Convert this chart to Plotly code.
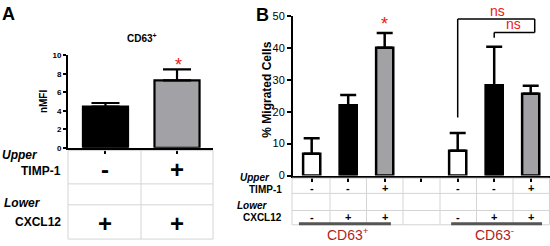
import plotly.graph_objects as go

# ---------------- data ----------------
# Panel A
cats_A = ["TIMP-1 -", "TIMP-1 +"]
nmfi = [4.45, 7.3]
nmfi_err = [0.4, 1.2]
colors_A = ["black", "#a2a2a6"]
timp_A = ["-", "+"]
cxcl_A = ["+", "+"]

# Panel B (empty string = spacer slot)
cats_B = ["CD63+ ctrl", "CD63+ CXCL12", "CD63+ CXCL12+TIMP-1", "",
          "CD63- ctrl", "CD63- CXCL12", "CD63- CXCL12+TIMP-1"]
migrated = [6.8, 22.0, 40.0, None, 7.8, 28.3, 25.6]
migrated_err = [4.9, 3.2, 4.6, None, 5.5, 12.0, 2.5]
colors_B = ["white", "black", "#a2a2a6", None, "white", "black", "#a2a2a6"]
timp_B = ["-", "-", "+", "", "-", "-", "+"]
cxcl_B = ["-", "+", "+", "", "-", "+", "+"]

W, H = 550, 246
def X(px):
    return px / W
def Y(py):
    return 1 - py / H

fig = go.Figure()

# Panel A bars
fig.add_trace(go.Bar(
    x=list(range(len(cats_A))), y=nmfi, width=0.63,
    marker=dict(color=colors_A, line=dict(color="black", width=2.2)),
    error_y=dict(type="data", symmetric=False, array=nmfi_err,
                 arrayminus=[0] * len(nmfi), color="black", thickness=2.2, width=14),
    xaxis="x", yaxis="y", hoverinfo="skip"))

# Panel B bars
idx_B = [i for i, c in enumerate(cats_B) if c]
fig.add_trace(go.Bar(
    x=idx_B, y=[migrated[i] for i in idx_B], width=0.47,
    marker=dict(color=[colors_B[i] for i in idx_B], line=dict(color="black", width=2.5)),
    error_y=dict(type="data", symmetric=False, array=[migrated_err[i] for i in idx_B],
                 arrayminus=[0] * len(idx_B), color="black", thickness=2.5, width=8),
    xaxis="x2", yaxis="y2", hoverinfo="skip"))

axis_common = dict(showline=True, linecolor="black", linewidth=2, ticks="outside",
                   tickcolor="black", tickwidth=2, showgrid=False, zeroline=False)

fig.update_layout(
    width=W, height=H, margin=dict(l=0, r=0, t=0, b=0),
    paper_bgcolor="white", plot_bgcolor="white", showlegend=False,
    font=dict(family="Liberation Sans, Arial", color="black"),
    xaxis=dict(domain=[X(68), X(213)], range=[-0.524, 1.503], anchor="y",
               tickvals=list(range(len(cats_A))), showticklabels=False, ticklen=4,
               **axis_common),
    yaxis=dict(domain=[Y(149), Y(52)], range=[0, 10], anchor="x", dtick=2, ticklen=3,
               tickfont=dict(size=8, weight="bold"), **axis_common),
    xaxis2=dict(domain=[X(293), X(549.5)], range=[-0.512, 6.515], anchor="y2",
                tickvals=list(range(len(cats_B))), showticklabels=False, ticklen=4,
                **axis_common),
    yaxis2=dict(domain=[Y(178.3), Y(10.3)], range=[0, 50], anchor="x2", dtick=10,
                ticklen=4, tickfont=dict(size=11), **axis_common),
)

ann = []
shapes = []
GRID = "#d4d4d4"
RED = "#f01414"

def text(x, y, s, size, xanchor="center", yanchor="middle", bold=False, italic=False,
         color="black", xref="paper", yref="paper", textangle=0):
    ann.append(dict(x=x, y=y, xref=xref, yref=yref, text=s, showarrow=False,
                    xanchor=xanchor, yanchor=yanchor, textangle=textangle,
                    font=dict(size=size, color=color,
                              weight="bold" if bold else "normal",
                              style="italic" if italic else "normal")))

def line(x0, y0, x1, y1, color=GRID, width=1, xref="paper", yref="paper"):
    shapes.append(dict(type="line", x0=x0, y0=y0, x1=x1, y1=y1, xref=xref, yref=yref,
                       line=dict(color=color, width=width)))

# Panel labels
text(X(0), Y(8), "A", 18, xanchor="left", bold=True)
text(X(254), Y(9), "B", 18, xanchor="left", bold=True)

# Panel A titles
text(X(142), Y(34), "CD63<sup>+</sup>", 10, bold=True)
text(X(43), Y(100), "nMFI", 10, bold=True, textangle=-90)
text(X(178), Y(62), "*", 18, color=RED)

# Panel A table
for py in [152, 187, 209, 245]:
    line(X(68), Y(py), X(213), Y(py))
for px in [68, 141, 213]:
    line(X(px), Y(152), X(px), Y(245))
text(X(0), Y(157), "Upper", 12, xanchor="left", bold=True, italic=True)
text(X(63), Y(173), "TIMP-1", 12, xanchor="right", bold=True)
text(X(2), Y(207), "Lower", 12, xanchor="left", bold=True, italic=True)
text(X(63), Y(227), "CXCL12", 12, xanchor="right", bold=True)
for i in range(len(cats_A)):
    text(i, Y(172), timp_A[i], 24, bold=True, xref="x")
    text(i, Y(229), cxcl_A[i], 24, bold=True, xref="x")

# Panel B axis title & annotations
text(X(267), Y(88), "% Migrated Cells", 12, bold=True, textangle=-90)
text(2, Y(19), "*", 18, color=RED, xref="x2")

# ns brackets (data coords)
line(4, 18.2, 4, 49.0, color="black", width=1.5, xref="x2", yref="y2")
line(4, 49.0, 6.11, 49.0, color="black", width=1.5, xref="x2", yref="y2")
line(6.11, 49.0, 6.11, 44.8, color="black", width=1.5, xref="x2", yref="y2")
line(5, 43.1, 5, 44.8, color="black", width=1.5, xref="x2", yref="y2")
line(5, 44.8, 6.11, 44.8, color="black", width=1.5, xref="x2", yref="y2")
text(X(498), Y(5), "ns", 14, color=RED)
text(X(513), Y(19), "ns", 14, color=RED)

# Panel B table
for py in [181, 197, 215, 230]:
    line(X(292), Y(py), X(549.5), Y(py))
for px in [292, 330, 366.5, 403, 440, 476.5, 513, 549.5]:
    line(X(px), Y(181), X(px), Y(230))
text(X(238), Y(180), "Upper", 10, xanchor="left", bold=True, italic=True)
text(X(284), Y(193), "TIMP-1", 10, xanchor="right", bold=True)
text(X(235), Y(210), "Lower", 10, xanchor="left", bold=True, italic=True)
text(X(284), Y(222), "CXCL12", 10, xanchor="right", bold=True)
for i in range(len(cats_B)):
    if timp_B[i]:
        text(i, Y(191), timp_B[i], 11, bold=True, xref="x2")
    if cxcl_B[i]:
        text(i, Y(222), cxcl_B[i], 11, bold=True, xref="x2")

# group underlines and labels
line(-0.35, Y(229), 2.17, Y(229), color="#555555", width=3, xref="x2")
line(3.82, Y(229), 6.31, Y(229), color="#555555", width=3, xref="x2")
text(1, Y(240), "CD63<sup>+</sup>", 14, color="#b01e1e", xref="x2")
text(5, Y(240), "CD63<sup>-</sup>", 14, color="#b01e1e", xref="x2")

fig.update_layout(annotations=ann, shapes=shapes)
fig.write_html("out.html", config={"displayModeBar": False},
               post_script="document.body.style.margin='0';document.body.style.overflow='hidden';")
